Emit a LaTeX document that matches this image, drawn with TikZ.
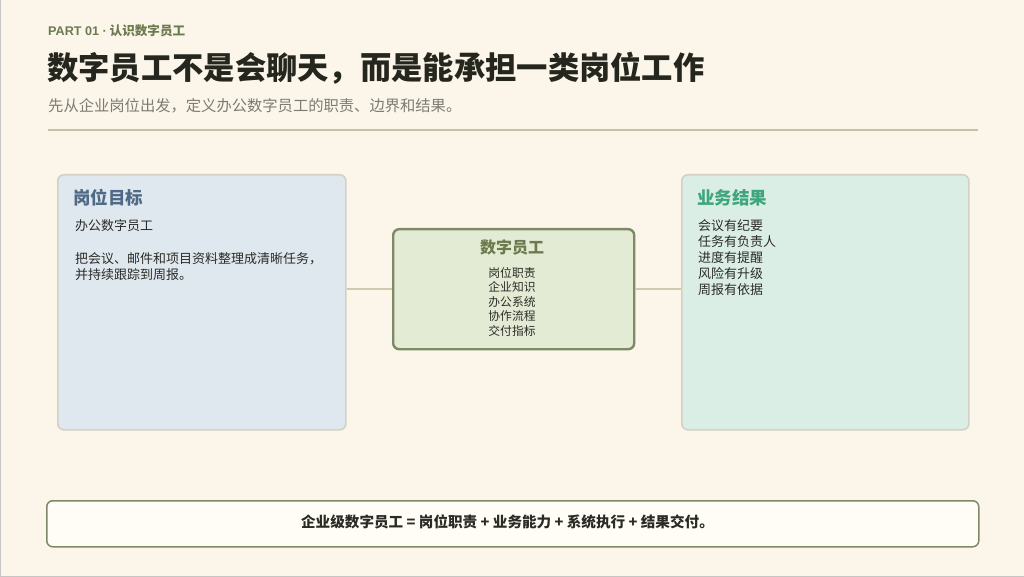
\documentclass[tikz,border=0pt]{standalone}
\usepackage{fontspec}
\setmainfont{Noto Sans CJK SC}
\newfontfamily\latinsans{Liberation Sans}
\definecolor{bgc}{HTML}{FCF5E9}
\definecolor{olive}{HTML}{6B7B4E}
\definecolor{titlec}{HTML}{25271F}
\definecolor{subc}{HTML}{7C7C74}
\definecolor{rulec}{HTML}{C9C0A4}
\definecolor{bluefill}{HTML}{DFE8EE}
\definecolor{greenfill}{HTML}{DBEEE6}
\definecolor{centerfill}{HTML}{E4EBD4}
\definecolor{boxborder}{HTML}{D3D1C6}
\definecolor{centerborder}{HTML}{7E8967}
\definecolor{bluetitle}{HTML}{4F6A86}
\definecolor{greentitle}{HTML}{3FA57E}
\definecolor{textc}{HTML}{2B2B26}
\definecolor{linkc}{HTML}{D2C8AE}
\definecolor{notefill}{HTML}{FFFDF6}
\tikzset{
  sidebox/.style={draw=boxborder, line width=1.6pt, rounded corners=6pt, inner sep=0pt, anchor=north west},
  centerbox/.style={draw=centerborder, fill=centerfill, line width=2.4pt, rounded corners=6pt, inner sep=0pt, anchor=north west, minimum width=241pt, minimum height=120pt},
  notebox/.style={draw=centerborder, fill=notefill, line width=1.5pt, rounded corners=6pt, inner sep=0pt, anchor=north west, minimum width=932pt, minimum height=46pt},
  boxtitle/.style={anchor=west, inner sep=0pt, font=\fontsize{17.5}{20}\selectfont\bfseries},
  bodytext/.style={anchor=north west, inner sep=0pt, align=left, text=textc, font=\fontsize{13}{16}\selectfont},
  link/.style={draw=linkc, line width=2pt}
}
\begin{document}
\begin{tikzpicture}[x=1pt,y=-1pt]
\useasboundingbox (0,0) rectangle (1024,577);
\fill[bgc] (0,0) rectangle (1024,577);
\draw[gray!45, line width=1pt] (0.5,0) -- (0.5,576.5) -- (1024,576.5);

% header
\node[anchor=west, inner sep=0pt, text=olive, font=\fontsize{12.6}{14}\selectfont\bfseries] (part) at (48,31) {{\latinsans PART 01 ·} 认识数字员工};
\node[anchor=west, inner sep=0pt, text=titlec, font=\fontsize{31.3}{36}\selectfont\bfseries] (title) at (47,68) {数字员工不是会聊天，而是能承担一类岗位工作};
\node[anchor=west, inner sep=0pt, text=subc, font=\fontsize{15.3}{18}\selectfont] (sub) at (48,106) {先从企业岗位出发，定义办公数字员工的职责、边界和结果。};
\coordinate (ruleA) at (48,130.5);
\coordinate (ruleB) at (978,130.5);
\draw[rulec, line width=2pt] (ruleA) -- (ruleB);

% left box
\node[sidebox, fill=bluefill, minimum width=288pt, minimum height=255pt] (left) at (57,174) {};
\node[boxtitle, text=bluetitle] (lefttitle) at (73,198) {岗位目标};
\node[bodytext] (lefttext) at (75,219) {办公数字员工\\[17pt]把会议、邮件和项目资料整理成清晰任务，\\并持续跟踪到周报。};

% right box
\node[sidebox, fill=greenfill, minimum width=287pt, minimum height=255pt] (right) at (681,174) {};
\node[boxtitle, text=greentitle] (righttitle) at (697,198) {业务结果};
\node[bodytext] (righttext) at (698,219) {会议有纪要\\任务有负责人\\进度有提醒\\风险有升级\\周报有依据};

% center box
\node[centerbox] (center) at (392,228) {};
\node[anchor=center, inner sep=0pt, text=olive, font=\fontsize{16}{19}\selectfont\bfseries] (centertitle) at (512,247) {数字员工};
\node[anchor=north, inner sep=0pt, align=center, text=textc, font=\fontsize{11.8}{14.5}\selectfont] (centertext) at (512,267) {岗位职责\\企业知识\\办公系统\\协作流程\\交付指标};

% connectors
\draw[link] (left.east |- center.west) -- (center.west);
\draw[link] (center.east) -- (center.east -| right.west);

% note
\node[notebox] (note) at (46,500) {};
\node[anchor=center, inner sep=0pt, text=textc, font=\fontsize{14.6}{17}\selectfont\bfseries] (notetext) at (507.5,522) {企业级数字员工 = 岗位职责 + 业务能力 + 系统执行 + 结果交付。};
\end{tikzpicture}
\end{document}
